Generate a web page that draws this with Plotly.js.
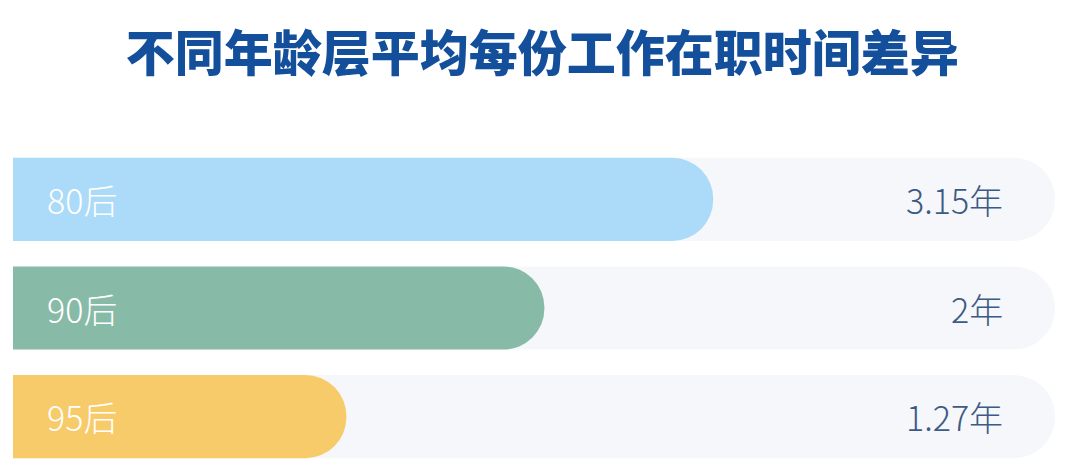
<!DOCTYPE html>
<html>
<head>
<meta charset="utf-8">
<script src="https://cdn.plot.ly/plotly-3.0.1.min.js"></script>
<style>
  html, body { margin: 0; padding: 0; background: #ffffff; }
  #chart { width: 1080px; height: 471px; }
</style>
</head>
<body>
<div id="chart"></div>
<script>
// Age groups, top to bottom
const groups = ['80后', '90后', '95后'];
// Average tenure per job (years), shown as the right-hand labels
const tenureYears = [3.15, 2, 1.27];
// Drawn bar length as share of the full track (%)
const barShare = [67.2, 51.0, 32.0];
const trackFull = [100, 100, 100];
const barColors = ['#acdaf9', '#87bba7', '#f7cb69'];

const FONT = '"Noto Sans CJK SC", "Noto Sans", sans-serif';

// Grey track behind every bar
const track = {
    type: 'bar',
    orientation: 'h',
    y: groups,
    x: trackFull,
    width: 0.765,
    marker: { color: '#f5f7fb', cornerradius: '50%', line: { width: 0 } },
    hoverinfo: 'skip'
};

// Coloured bars, on their own overlaying axes so each keeps its round end
const bars = {
    type: 'bar',
    orientation: 'h',
    y: groups,
    x: barShare,
    xaxis: 'x2',
    yaxis: 'y2',
    width: 0.765,
    marker: { color: barColors, cornerradius: '50%', line: { width: 0 } },
    hoverinfo: 'skip'
};

// Group names inside the bars, values at the right end of the track
const annotations = [];
groups.forEach((g, i) => {
    annotations.push({
        xref: 'x', yref: 'y', x: 0, y: g,
        xanchor: 'left', yanchor: 'middle', xshift: 32,
        text: g, showarrow: false,
        font: { family: FONT, size: 34, color: '#ffffff', weight: 300 }
    });
    annotations.push({
        xref: 'x', yref: 'y', x: 100, y: g,
        xanchor: 'right', yanchor: 'middle', xshift: -50,
        text: tenureYears[i] + '年', showarrow: false,
        font: { family: FONT, size: 34, color: '#3d5a84', weight: 300 }
    });
});

const axisX = { range: [0, 100], visible: false, fixedrange: true };
const axisY = { autorange: 'reversed', visible: false, fixedrange: true };

const layout = {
    width: 1080,
    height: 471,
    paper_bgcolor: '#ffffff',
    plot_bgcolor: 'rgba(0,0,0,0)',
    showlegend: false,
    title: {
        text: '不同年龄层平均每份工作在职时间差异',
        x: 0.502, xanchor: 'center',
        y: 0.885, yanchor: 'middle', yref: 'container',
        font: { family: FONT, size: 49, color: '#134f9b', weight: 900 }
    },
    xaxis: axisX,
    yaxis: axisY,
    xaxis2: Object.assign({}, axisX, { overlaying: 'x' }),
    yaxis2: Object.assign({}, axisY, { overlaying: 'y' }),
    margin: { t: 145, b: 0, l: 13, r: 25 },
    annotations: annotations
};

Plotly.newPlot('chart', [track, bars], layout, { displayModeBar: false, staticPlot: true });
</script>
</body>
</html>
